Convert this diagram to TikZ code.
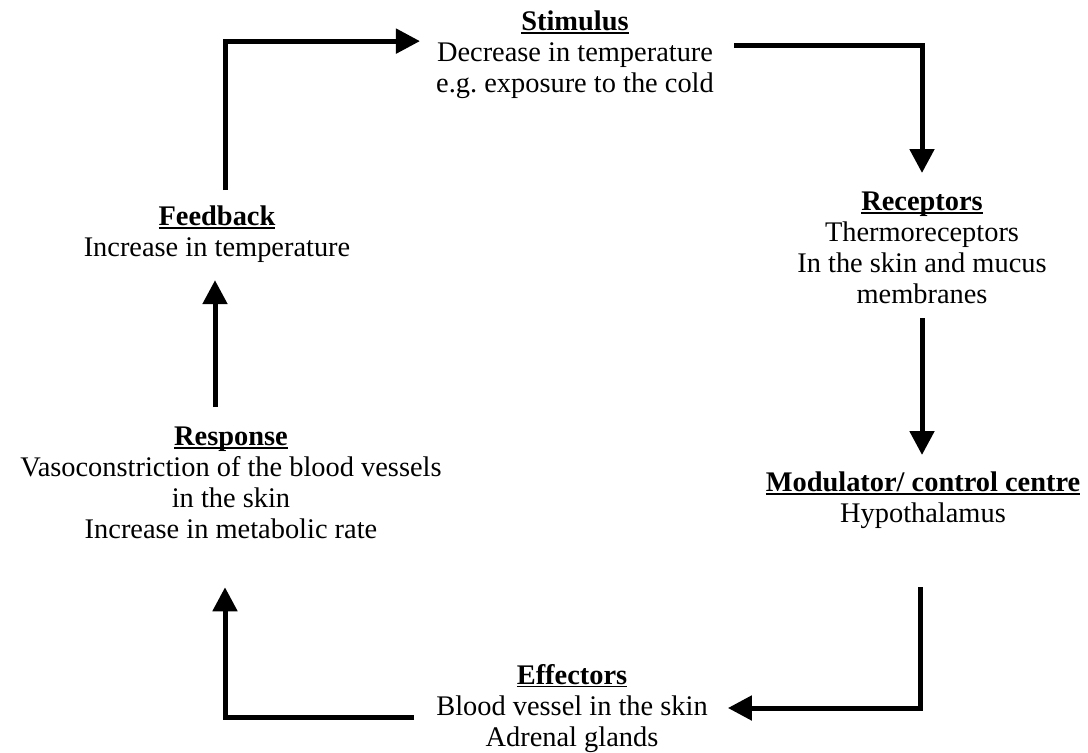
\documentclass[tikz,border=0pt]{standalone}
\usepackage{fontspec}
\setmainfont{Liberation Serif}
\usetikzlibrary{arrows.meta}
\frenchspacing

% bold heading with a word-style underline
\newsavebox\headbox
\newcommand\ulhead[1]{\leavevmode\sbox\headbox{\textbf{#1}}\rlap{\rule[-3pt]{\wd\headbox}{1.6pt}}\usebox\headbox}

\begin{document}
\begin{tikzpicture}[x=1pt,y=-1pt,
    blk/.style={align=center, inner sep=0pt, anchor=north, font=\fontsize{28.4}{31}\selectfont},
    flow/.style={line width=5pt, line join=miter, -{Triangle[length=24pt,width=24pt]}}]
    \useasboundingbox (0,0) rectangle (1088,753);

    % Text blocks
    \node[blk] (stim) at (575,11) {\ulhead{Stimulus}\\Decrease in temperature\\e.g. exposure to the cold};
    \node[blk] (recep) at (922,192) {\ulhead{Receptors}\\Thermoreceptors\\In the skin and mucus\\membranes};
    \node[blk] (modul) at (923,472) {\ulhead{Modulator/ control centre}\\Hypothalamus};
    \node[blk] (effec) at (572,664) {\ulhead{Effectors}\\Blood vessel in the skin\\Adrenal glands};
    \node[blk] (resp) at (231,427) {\ulhead{Response}\\Vasoconstriction of the blood vessels\\in the skin\\Increase in metabolic rate};
    \node[blk] (feedb) at (217,206) {\ulhead{Feedback}\\Increase in temperature};

    % Loop arrows
    \draw[flow] ([xshift=8pt,yshift=16pt]feedb.north) |- ([xshift=-16pt,yshift=14pt]stim.west);
    \draw[flow] ([xshift=20pt,yshift=10pt]stim.east) -| ([yshift=19pt]recep.north);
    \draw[flow] ([yshift=-14pt]recep.south) -- ([yshift=17pt]recep.south |- modul.north);
    \draw[flow] ([xshift=-3pt,yshift=-58pt]modul.south) |- ([xshift=20pt,yshift=-44pt]effec.north east);
    \draw[flow] ([xshift=-22pt,yshift=-53pt]effec.north west) -| ([xshift=-6pt,yshift=-48pt]resp.south);
    \draw[flow] ([xshift=-2pt,yshift=20pt]feedb.south |- resp.north) -- ([xshift=-2pt,yshift=-17pt]feedb.south);
\end{tikzpicture}
\end{document}
